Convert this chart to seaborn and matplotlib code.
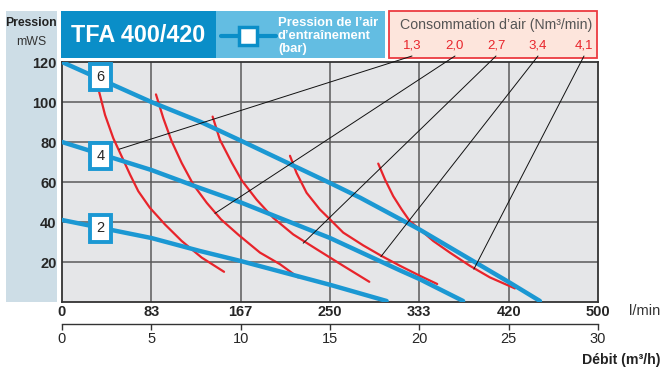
import numpy as np
import pandas as pd
import matplotlib
matplotlib.use("Agg")
import matplotlib.pyplot as plt
import seaborn as sns
from matplotlib.patches import Rectangle
from matplotlib.lines import Line2D

# ---------------- data ----------------
flow_ticks_m3h = [0, 5, 10, 15, 20, 25, 30]
flow_tick_lmin = ["0", "83", "167", "250", "333", "420", "500"]
pressure_ticks = [20, 40, 60, 80, 100, 120]

# driving air pressure curves (bar)
drive_labels = ["6", "4", "2"]
p6_x = [0, 5, 7.72, 10, 15, 16.7, 20, 25, 26.75]
p6_y = [120, 100, 90.2, 80.7, 59.5, 52.1, 36.3, 10, 0.5]
p4_x = [0, 5, 7.72, 10, 15, 18.92, 20, 22.45]
p4_y = [80, 66, 57, 49.8, 32, 15.8, 11.5, 0.5]
p2_x = [0, 5, 7.72, 10, 15, 18.17]
p2_y = [41, 32, 25.5, 20.5, 8.6, 0.5]
drive_label_pos_y = [112.6, 73, 36.8]

# air consumption curves (Nm3/min)
cons_labels = ["1,3", "2,0", "2,7", "3,4", "4,1"]
c13_x = [2.03, 2.41, 2.87, 3.34, 3.81, 4.27, 4.92, 5.76, 6.70, 7.82, 9.07]
c13_y = [106.8, 93.5, 81.9, 72.8, 63.7, 55.4, 47.1, 38.8, 30.5, 22.2, 15.1]
c20_x = [5.26, 5.67, 6.14, 6.70, 7.35, 8.10, 8.90, 9.90, 11.08, 12.2, 13.22]
c20_y = [103.8, 91.9, 80.3, 69.5, 58.7, 49.6, 41.3, 33.4, 24.7, 18.9, 12.3]
c27_x = [8.43, 8.84, 9.50, 10.06, 10.89, 11.82, 12.94, 14.25, 15.74, 17.2]
c27_y = [92.7, 81.1, 69.7, 60.8, 51.2, 42.1, 33.8, 26.4, 18.1, 10.1]
c34_x = [12.76, 13.13, 13.69, 14.43, 15.0, 15.74, 16.86, 17.89, 18.92, 20.03, 21.0]
c34_y = [73.1, 64.5, 54.6, 46.3, 41.3, 34.7, 28.3, 23.0, 18.1, 13.1, 9.0]
c41_x = [17.7, 18.08, 18.54, 19.01, 19.47, 20.03, 20.78, 21.71, 22.83, 23.95, 25.35]
c41_y = [69.2, 61.2, 52.9, 46.3, 40.4, 36.3, 30.5, 24.7, 18.1, 12.3, 6.8]
# point on each consumption curve where the leader line ends
leader_x = [3.2, 8.56, 13.5, 17.85, 23.05]
leader_y = [76.4, 44.3, 29.4, 22.7, 16.4]

# ---------------- style ----------------
W, H = 662, 369
BLUE = "#1b98d3"
DARK_BLUE = "#0a8ec8"
LIGHT_BLUE = "#63bde2"
PANEL = "#cddde6"
PLOT_BG = "#e5e6e8"
RED = "#e8242b"
GRID = "#5a5a5a"

sns.set_style("white")
plt.rcParams["font.family"] = ["Liberation Sans", "DejaVu Sans"]

fig = plt.figure(figsize=(W / 100, H / 100), dpi=100)


def fx(x):
    return x / W


def fy(y):
    return 1 - y / H


# left panel and header boxes
fig.add_artist(Rectangle((fx(6), fy(302)), fx(57) - fx(6), fy(11) - fy(302),
                         transform=fig.transFigure, fc=PANEL, ec="none", zorder=0))
fig.add_artist(Rectangle((fx(61), fy(58)), fx(216) - fx(61), fy(11) - fy(58),
                         transform=fig.transFigure, fc=DARK_BLUE, ec="none", zorder=0))
fig.add_artist(Rectangle((fx(216), fy(58)), fx(385) - fx(216), fy(11) - fy(58),
                         transform=fig.transFigure, fc=LIGHT_BLUE, ec="none", zorder=0))
fig.add_artist(Rectangle((fx(389), fy(58)), fx(597) - fx(389), fy(11) - fy(58),
                         transform=fig.transFigure, fc="#fde5dc", ec="#ec3a40", lw=1.3, zorder=0))

fig.text(fx(138), fy(36), "TFA 400/420", color="white", fontsize=16.8, fontweight="bold",
         ha="center", va="center")
fig.add_artist(Line2D([fx(221), fx(276)], [fy(36), fy(36)], transform=fig.transFigure,
                      color=DARK_BLUE, lw=3))
fig.add_artist(Line2D([fx(248)], [fy(36)], transform=fig.transFigure, marker="s",
                      markersize=13, mfc="white", mec=DARK_BLUE, mew=2.5, lw=0))
fig.text(fx(278), fy(36), "Pression de l’air\nd’entraînement\n(bar)", color="white",
         fontsize=9.4, fontweight="bold", ha="left", va="center", linespacing=1.1)

fig.text(fx(496), fy(25), "Consommation d’air (Nm³/min)", color="#555555", fontsize=10.2,
         ha="center", va="center")
cons_label_px = [412, 455, 496, 538, 584]
for lab, px in zip(cons_labels, cons_label_px):
    fig.text(fx(px), fy(46), lab, color=RED, fontsize=9.5, ha="center", va="center")

fig.text(fx(31), fy(23), "Pression", fontsize=8.8, fontweight="bold", ha="center", va="center",
         color="#222222")
fig.text(fx(31), fy(42), "mWS", fontsize=8.8, ha="center", va="center", color="#333333")

# ---------------- main axes ----------------
ax = fig.add_axes([fx(62), fy(302), fx(598) - fx(62), fy(62) - fy(302)])
ax.set_facecolor(PLOT_BG)
ax.set_xlim(0, 30)
ax.set_ylim(0, 120)

for v in flow_ticks_m3h[1:-1]:
    ax.axvline(v, color=GRID, lw=1.1, zorder=1)
for v in pressure_ticks[:-1]:
    ax.axhline(v, color=GRID, lw=1.1, zorder=1)

for s in ax.spines.values():
    s.set_color("#333333")
    s.set_linewidth(1.3)

# consumption curves (red)
for xs, ys in [(c13_x, c13_y), (c20_x, c20_y), (c27_x, c27_y), (c34_x, c34_y), (c41_x, c41_y)]:
    sns.lineplot(x=xs, y=ys, ax=ax, color=RED, lw=1.6, sort=False, estimator=None, zorder=3)

# pressure curves (blue)
for xs, ys in [(p6_x, p6_y), (p4_x, p4_y), (p2_x, p2_y)]:
    sns.lineplot(x=xs, y=ys, ax=ax, color=BLUE, lw=3.2, sort=False, estimator=None, zorder=4)

for lab, yv in zip(drive_labels, drive_label_pos_y):
    ax.text(2.16, yv, lab, fontsize=10.5, ha="center", va="center", zorder=6,
            bbox=dict(boxstyle="square,pad=0.42", fc="white", ec=BLUE, lw=2.8))

# leader lines from consumption labels to curves
for px, lx, ly in zip(cons_label_px, leader_x, leader_y):
    ax.annotate("", xy=(lx, ly), xycoords="data", xytext=(fx(px), fy(56)),
                textcoords="figure fraction",
                arrowprops=dict(arrowstyle="-", lw=0.7, color="#111111", shrinkA=0, shrinkB=0),
                zorder=5)

ax.set_yticks(pressure_ticks)
ax.set_yticklabels([str(v) for v in pressure_ticks], fontsize=10.5, fontweight="bold")
ax.set_xticks(flow_ticks_m3h)
ax.set_xticklabels(flow_tick_lmin, fontsize=10.5, fontweight="bold")
ax.tick_params(axis="both", length=0, pad=4)
ax.tick_params(axis="x", pad=2)
ax.set_xlabel("")
ax.set_ylabel("")

sec = ax.secondary_xaxis(-0.092)
sec.set_xticks(flow_ticks_m3h)
sec.set_xticklabels([str(v) for v in flow_ticks_m3h], fontsize=10.5)
sec.tick_params(axis="x", length=4, width=1, color="#333333", pad=2)
sec.spines["bottom"].set_color("#333333")
sec.spines["bottom"].set_linewidth(1)

fig.text(fx(645), fy(311), "l/min", fontsize=10.5, ha="center", va="center", color="#333333")
fig.text(fx(660), fy(360), "Débit (m³/h)", fontsize=10.2, fontweight="bold", ha="right",
         va="center", color="#222222")

fig.savefig("out.png", dpi=100)
